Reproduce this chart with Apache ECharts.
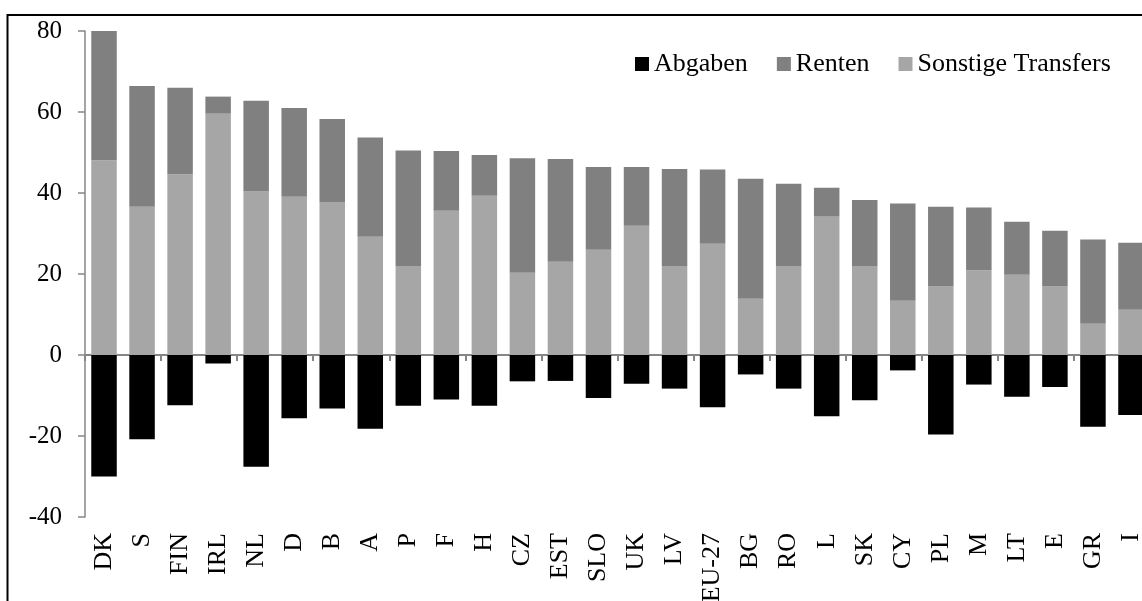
<!DOCTYPE html>
<html>
<head>
<meta charset="utf-8">
<script src="https://cdn.jsdelivr.net/npm/echarts@6/dist/echarts.min.js"></script>
<style>
  html, body { margin: 0; padding: 0; background: #fff; }
  #chart { width: 1142px; height: 601px; }
</style>
</head>
<body>
<div id="chart"></div>
<script>
const categories = ['DK', 'S', 'FIN', 'IRL', 'NL', 'D', 'B', 'A', 'P', 'F', 'H', 'CZ', 'EST', 'SLO',
  'UK', 'LV', 'EU-27', 'BG', 'RO', 'L', 'SK', 'CY', 'PL', 'M', 'LT', 'E', 'GR', 'I']
// Abgaben (negativ)
const abgaben = [-30.0, -20.8, -12.4, -2.1, -27.6, -15.6, -13.2, -18.2, -12.5, -11.0, -12.5, -6.5, -6.4, -10.6,
  -7.1, -8.3, -12.9, -4.8, -8.3, -15.1, -11.2, -3.8, -19.6, -7.3, -10.3, -7.9, -17.7, -14.8]
// Sonstige Transfers (unten im Stapel)
const sonstige = [48.1, 36.6, 44.6, 59.6, 40.4, 39.1, 37.8, 29.2, 22.0, 35.6, 39.3, 20.3, 23.0, 26.0,
  31.9, 22.0, 27.5, 13.9, 22.0, 34.3, 22.0, 13.4, 16.9, 20.9, 19.8, 16.9, 7.7, 11.2]
// Renten (oben im Stapel)
const renten = [31.9, 29.8, 21.4, 4.2, 22.4, 21.9, 20.5, 24.5, 28.5, 14.8, 10.1, 28.3, 25.4, 20.4,
  14.5, 23.9, 18.3, 29.6, 20.3, 7.0, 16.3, 24.0, 19.7, 15.5, 13.1, 13.8, 20.8, 16.5]
const yTicks = [-40, 80, 20] // min, max, interval

const font = "'Liberation Serif', 'Times New Roman', serif"
const axisGray = '#868686'

const chart = echarts.init(document.getElementById('chart'))
chart.setOption({
  backgroundColor: '#fff',
  animation: false,
  textStyle: { fontFamily: font, color: '#000' },
  graphic: [{
    type: 'rect',
    shape: { x: 7.5, y: 15, width: 1200, height: 700 },
    style: { fill: 'none', stroke: '#000', lineWidth: 2 },
    silent: true
  }],
  legend: {
    data: ['Abgaben', 'Renten', 'Sonstige Transfers'],
    left: 630,
    top: 46,
    icon: 'rect',
    itemWidth: 14,
    itemHeight: 14,
    itemGap: 29,
    textStyle: { fontFamily: font, fontSize: 26, color: '#000' }
  },
  grid: {
    left: 85,
    top: 31,
    width: 1065,
    height: 486,
    containLabel: false,
    outerBoundsMode: 'none'
  },
  xAxis: [{
    type: 'category',
    data: categories,
    position: 'bottom',
    axisLine: { show: false, onZero: false },
    axisTick: { show: false },
    axisLabel: {
      rotate: 90,
      margin: 16,
      interval: 0,
      fontFamily: font,
      fontSize: 26,
      color: '#000'
    }
  }, {
    type: 'category',
    data: categories,
    position: 'bottom',
    axisLine: { show: true, onZero: true, lineStyle: { color: axisGray, width: 2 } },
    axisTick: { show: true, inside: false, length: 6, lineStyle: { color: axisGray, width: 2 } },
    axisLabel: { show: false }
  }],
  yAxis: {
    type: 'value',
    min: yTicks[0],
    max: yTicks[1],
    interval: yTicks[2],
    axisLine: { show: true, lineStyle: { color: axisGray, width: 1.5 } },
    axisTick: { show: true, length: 7, lineStyle: { color: axisGray, width: 1.5 } },
    splitLine: { show: false },
    axisLabel: { margin: 23, fontFamily: font, fontSize: 25, color: '#000' }
  },
  series: [{
    name: 'Abgaben',
    type: 'bar',
    stack: 'total',
    barWidth: 25.5,
    data: abgaben,
    itemStyle: { color: '#000000' }
  }, {
    name: 'Sonstige Transfers',
    type: 'bar',
    stack: 'total',
    barWidth: 25.5,
    data: sonstige,
    itemStyle: { color: '#a6a6a6' }
  }, {
    name: 'Renten',
    type: 'bar',
    stack: 'total',
    barWidth: 25.5,
    data: renten,
    itemStyle: { color: '#808080' }
  }]
})
</script>
</body>
</html>
